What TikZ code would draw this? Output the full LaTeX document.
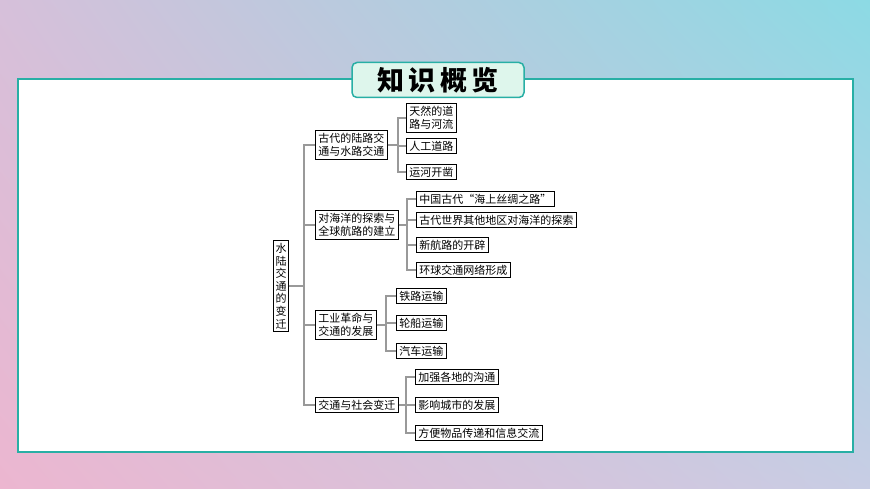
\documentclass[tikz,border=0pt]{standalone}
\usepackage{fontspec}
\newfontfamily\cjk{Noto Sans CJK SC}
\usetikzlibrary{positioning,shadings}
\definecolor{teal1}{RGB}{40,175,165}
\definecolor{bgpink}{RGB}{236,182,208}
\definecolor{bglav}{RGB}{214,192,218}
\definecolor{bgcyan}{RGB}{140,218,228}
\definecolor{bgmid}{RGB}{200,205,228}
\definecolor{mint}{RGB}{222,246,236}
\tikzset{
  box/.style={draw, line width=0.9pt, inner xsep=3pt, inner ysep=2.5pt, anchor=west,
              font=\cjk\fontsize{11}{13}\selectfont, align=center, fill=white},
  link/.style={draw=gray!80, line width=1.3pt}
}
\begin{document}
\begin{tikzpicture}[x=1pt,y=-1pt]

\useasboundingbox (0,0) rectangle (870,489);
\shade[upper left=bglav, upper right=bgcyan, lower left=bgpink, lower right=bgmid] (0,0) rectangle (870,489);
\draw[teal1, line width=2pt, fill=white] (18,79) rectangle (853,452);
\node[draw=teal1, line width=1.5pt, fill=mint, rounded corners=5pt, minimum width=172pt, minimum height=35pt,
      font=\cjk\bfseries\fontsize{27}{30}\selectfont] (title) at (438,80) {知\,识\,概\,览};

% root
\node[box, anchor=center, inner xsep=2pt, font=\cjk\fontsize{11}{12.6}\selectfont] (root) at (281,286) {水\\陆\\交\\通\\的\\变\\迁};

% first level
\node[box] (a) at (315,145) {古代的陆路交\\通与水路交通};
\node[box] (b) at (315,225) {对海洋的探索与\\全球航路的建立};
\node[box] (c) at (315,325) {工业革命与\\交通的发展};
\node[box] (d) at (315,405) {交通与社会变迁};

% second level
\node[box] (a1) at (406,118) {天然的道\\路与河流};
\node[box] (a2) at (406,146) {人工道路};
\node[box] (a3) at (406,172) {运河开凿};
\node[box] (b1) at (416,199) {中国古代“海上丝绸之路”};
\node[box] (b2) at (416,220) {古代世界其他地区对海洋的探索};
\node[box] (b3) at (416,245) {新航路的开辟};
\node[box] (b4) at (416,270) {环球交通网络形成};
\node[box] (c1) at (396,296) {铁路运输};
\node[box] (c2) at (396,323) {轮船运输};
\node[box] (c3) at (396,351) {汽车运输};
\node[box] (d1) at (415,377) {加强各地的沟通};
\node[box] (d2) at (415,405) {影响城市的发展};
\node[box] (d3) at (415,433) {方便物品传递和信息交流};

% connectors
\foreach \p in {a,b,c,d}
  \draw[link] (root.east) -- (304,286) |- (\p.west);
\foreach \q in {a1,a2,a3}
  \draw[link] (a.east) -- (398,145) |- (\q.west);
\foreach \q in {b1,b2,b3,b4}
  \draw[link] (b.east) -- (407,225) |- (\q.west);
\foreach \q in {c1,c2,c3}
  \draw[link] (c.east) -- (386,325) |- (\q.west);
\foreach \q in {d1,d2,d3}
  \draw[link] (d.east) -- (406,405) |- (\q.west);

\end{tikzpicture}
\end{document}
